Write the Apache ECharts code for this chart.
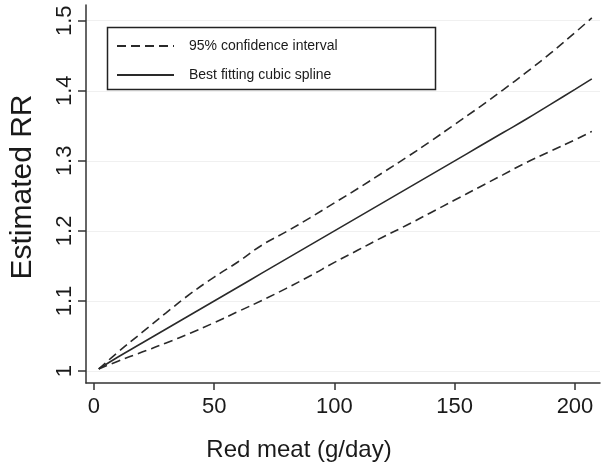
<!DOCTYPE html>
<html>
<head>
<meta charset="utf-8">
<script src="https://cdn.jsdelivr.net/npm/echarts@6/dist/echarts.min.js"></script>
<style>
html,body{margin:0;padding:0;background:#fff;}
#c{width:601px;height:474px;}
</style>
</head>
<body>
<div id="c"></div>
<script>
// Data
const redMeat = [2, 10, 20, 30, 40, 50, 60, 70, 80, 90, 100, 110, 120, 130, 140, 150, 160, 170, 180, 190, 200, 207];
const fitted  = [1.003, 1.020, 1.040, 1.060, 1.080, 1.100, 1.120, 1.140, 1.160, 1.180, 1.200, 1.220, 1.240, 1.260, 1.280, 1.300, 1.320, 1.340, 1.360, 1.381, 1.402, 1.417];
const upperCI = [1.003, 1.027, 1.055, 1.083, 1.110, 1.134, 1.156, 1.180, 1.199, 1.219, 1.240, 1.261, 1.283, 1.305, 1.328, 1.352, 1.376, 1.401, 1.427, 1.454, 1.483, 1.504];
const lowerCI = [1.003, 1.014, 1.027, 1.040, 1.054, 1.069, 1.085, 1.101, 1.118, 1.136, 1.155, 1.173, 1.191, 1.208, 1.226, 1.244, 1.262, 1.280, 1.298, 1.314, 1.330, 1.342];
const xTicks = [0, 50, 100, 150, 200];
const yTicks = [1, 1.1, 1.2, 1.3, 1.4, 1.5];
const ciName = '95% confidence interval';
const fitName = 'Best fitting cubic spline';

const pair = (ys) => redMeat.map((x, i) => [x, ys[i]]);
const FONT = 'Liberation Sans, Arial, sans-serif';
const chart = echarts.init(document.getElementById('c'), null, {renderer: 'canvas'});
const dashStyle = {color: '#2a2a2a', width: 1.6, type: [9, 5]};
chart.setOption({
  animation: false,
  backgroundColor: '#ffffff',
  grid: {left: 85, right: 1, top: 5, bottom: 91, containLabel: false},
  xAxis: {
    type: 'value', min: -3.3, max: 210.4,
    name: 'Red meat (g/day)', nameLocation: 'middle', nameGap: 55,
    nameTextStyle: {fontFamily: FONT, fontSize: 24, color: '#1a1a1a', padding: [0, 88, 0, 0]},
    axisLine: {show: true, onZero: false, lineStyle: {color: '#333', width: 1.5}},
    axisTick: {show: true, length: 7, customValues: xTicks, lineStyle: {color: '#333', width: 1.5}},
    axisLabel: {customValues: xTicks, margin: 13, fontFamily: FONT, fontSize: 22, color: '#1a1a1a'},
    splitLine: {show: false}
  },
  yAxis: {
    type: 'value', min: 0.9829, max: 1.5224,
    name: 'Estimated RR', nameLocation: 'middle', nameGap: 48, nameRotate: 90,
    nameTextStyle: {fontFamily: FONT, fontSize: 30, color: '#1a1a1a', padding: [0, 0, 0, 14]},
    axisLine: {show: true, onZero: false, lineStyle: {color: '#333', width: 1.5}},
    axisTick: {show: true, length: 8, customValues: yTicks, lineStyle: {color: '#333', width: 1.5}},
    axisLabel: {customValues: yTicks, rotate: 90, margin: 10, fontFamily: FONT, fontSize: 22, color: '#1a1a1a',
      formatter: (v) => String(v)},
    splitLine: {show: true, lineStyle: {color: '#f0f0f0', width: 1.2}}
  },
  legend: {
    show: true, orient: 'vertical', left: 111, top: 34,
    itemWidth: 57, itemHeight: 14, itemGap: 15,
    data: [ciName, fitName],
    itemStyle: {opacity: 0},
    textStyle: {fontFamily: FONT, fontSize: 14, color: '#1a1a1a', padding: [0, 0, 0, 10]}
  },
  graphic: [{
    type: 'rect', left: 105, top: 25, z: 10,
    shape: {width: 328, height: 62},
    style: {fill: 'none', stroke: '#222', lineWidth: 1.5}
  }],
  series: [
    {name: ciName, type: 'line', data: pair(upperCI), symbol: 'none', smooth: true, lineStyle: dashStyle, itemStyle: {color: '#2a2a2a'}},
    {name: fitName, type: 'line', data: pair(fitted), symbol: 'none', smooth: true, lineStyle: {color: '#2a2a2a', width: 1.6}, itemStyle: {color: '#2a2a2a'}},
    {name: ciName, type: 'line', data: pair(lowerCI), symbol: 'none', smooth: true, lineStyle: dashStyle, itemStyle: {color: '#2a2a2a'}}
  ]
});
</script>
</body>
</html>
